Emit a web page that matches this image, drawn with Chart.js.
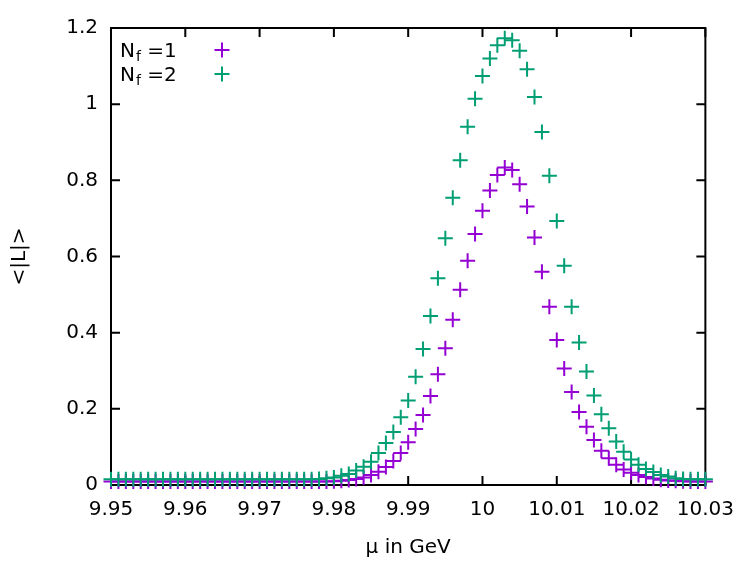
<!DOCTYPE html>
<html>
<head>
<meta charset="utf-8">
<script src="https://cdn.jsdelivr.net/npm/chart.js@4/dist/chart.umd.min.js"></script>
<style>
  body { margin: 0; background: #fff; }
</style>
</head>
<body>
<canvas id="muChart" width="747" height="561"></canvas>
<script>
// mu values (GeV)
const muValues = [
  9.950, 9.951, 9.952, 9.953, 9.954, 9.955, 9.956, 9.957, 9.958, 9.959,
  9.960, 9.961, 9.962, 9.963, 9.964, 9.965, 9.966, 9.967, 9.968, 9.969,
  9.970, 9.971, 9.972, 9.973, 9.974, 9.975, 9.976, 9.977, 9.978, 9.979,
  9.980, 9.981, 9.982, 9.983, 9.984, 9.985, 9.986, 9.987, 9.988, 9.989,
  9.990, 9.991, 9.992, 9.993, 9.994, 9.995, 9.996, 9.997, 9.998, 9.999,
  10.000, 10.001, 10.002, 10.003, 10.004, 10.005, 10.006, 10.007, 10.008, 10.009,
  10.010, 10.011, 10.012, 10.013, 10.014, 10.015, 10.016, 10.017, 10.018, 10.019,
  10.020, 10.021, 10.022, 10.023, 10.024, 10.025, 10.026, 10.027, 10.028, 10.029,
  10.030
];

// <|L|> for Nf = 1
const nf1Values = [
  0.009, 0.009, 0.009, 0.009, 0.009, 0.009, 0.009, 0.009, 0.009, 0.009,
  0.009, 0.009, 0.009, 0.009, 0.009, 0.009, 0.009, 0.009, 0.009, 0.009,
  0.009, 0.009, 0.009, 0.009, 0.009, 0.009, 0.009, 0.009, 0.009, 0.009,
  0.010, 0.011, 0.013, 0.016, 0.020, 0.026, 0.035, 0.047, 0.063, 0.084,
  0.112, 0.147, 0.184, 0.234, 0.291, 0.359, 0.434, 0.513, 0.589, 0.659,
  0.720, 0.773, 0.814, 0.834, 0.827, 0.790, 0.731, 0.650, 0.560, 0.468,
  0.381, 0.306, 0.244, 0.192, 0.153, 0.118, 0.090, 0.070, 0.053, 0.041,
  0.032, 0.026, 0.021, 0.017, 0.014, 0.012, 0.011, 0.010, 0.009, 0.009,
  0.009
];

// <|L|> for Nf = 2
const nf2Values = [
  0.015, 0.015, 0.015, 0.015, 0.015, 0.015, 0.015, 0.015, 0.015, 0.015,
  0.015, 0.015, 0.015, 0.015, 0.015, 0.015, 0.015, 0.015, 0.015, 0.015,
  0.015, 0.015, 0.015, 0.015, 0.015, 0.015, 0.015, 0.015, 0.016, 0.018,
  0.020, 0.024, 0.029, 0.038, 0.048, 0.061, 0.084, 0.110, 0.139, 0.178,
  0.222, 0.284, 0.357, 0.444, 0.543, 0.648, 0.754, 0.853, 0.941, 1.014,
  1.074, 1.120, 1.155, 1.173, 1.168, 1.140, 1.092, 1.019, 0.927, 0.812,
  0.693, 0.576, 0.468, 0.374, 0.298, 0.235, 0.186, 0.149, 0.114, 0.087,
  0.067, 0.053, 0.042, 0.034, 0.026, 0.022, 0.018, 0.016, 0.015, 0.015,
  0.015
];

const seriesNames = ['1', '2'];
const seriesColors = ['#9400d3', '#009e73'];

const xTicks = [9.95, 9.96, 9.97, 9.98, 9.99, 10.00, 10.01, 10.02, 10.03];
const xTickLabels = ['9.95', '9.96', '9.97', '9.98', '9.99', '10', '10.01', '10.02', '10.03'];
const yTicks = [0, 0.2, 0.4, 0.6, 0.8, 1.0, 1.2];
const yTickLabels = ['0', '0.2', '0.4', '0.6', '0.8', '1', '1.2'];

const FONT = 'DejaVu Sans';
const fontSize = 20;
const markRadius = 7.5;

function toPoints(values) {
    return values.map((v, i) => ({ x: muValues[i], y: v }));
}

function drawPlus(ctx, x, y, color) {
    ctx.save();
    ctx.strokeStyle = color;
    ctx.lineWidth = 2;
    ctx.beginPath();
    ctx.moveTo(x - markRadius, y);
    ctx.lineTo(x + markRadius, y);
    ctx.moveTo(x, y - markRadius);
    ctx.lineTo(x, y + markRadius);
    ctx.stroke();
    ctx.restore();
}

// gnuplot style box with inward ticks on all sides
const framePlugin = {
    id: 'frame',
    beforeDatasetsDraw(chart) {
        const ctx = chart.ctx;
        const a = chart.chartArea;
        const xs = chart.scales.x;
        const ys = chart.scales.y;
        const tl = 9;
        ctx.save();
        ctx.strokeStyle = '#000';
        ctx.lineWidth = 2;
        ctx.beginPath();
        xTicks.forEach(t => {
            const px = xs.getPixelForValue(t);
            ctx.moveTo(px, a.bottom);
            ctx.lineTo(px, a.bottom - tl);
            ctx.moveTo(px, a.top);
            ctx.lineTo(px, a.top + tl);
        });
        yTicks.forEach(t => {
            const py = ys.getPixelForValue(t);
            ctx.moveTo(a.left, py);
            ctx.lineTo(a.left + tl, py);
            ctx.moveTo(a.right, py);
            ctx.lineTo(a.right - tl, py);
        });
        ctx.stroke();
        ctx.strokeRect(a.left, a.top, a.right - a.left, a.bottom - a.top);
        ctx.restore();
    },
    afterDatasetsDraw(chart) {
        const ctx = chart.ctx;
        ctx.save();
        ctx.fillStyle = '#000';
        ctx.textBaseline = 'alphabetic';
        seriesNames.forEach((name, i) => {
            const base = 57 + i * 24;
            let x = 120;
            ctx.font = fontSize + 'px "' + FONT + '"';
            ctx.fillText('N', x, base);
            x += ctx.measureText('N').width;
            ctx.font = '14px "' + FONT + '"';
            ctx.fillText('f', x + 1, base + 4);
            x += ctx.measureText('f').width + 1;
            ctx.font = fontSize + 'px "' + FONT + '"';
            ctx.fillText(' =' + name, x, base);
            drawPlus(ctx, 222, base - 7, seriesColors[i]);
        });
        ctx.restore();
    }
};

const ctx = document.getElementById('muChart').getContext('2d');
const muChart = new Chart(ctx, {
    type: 'scatter',
    data: {
        datasets: [{
            label: 'Nf =1',
            data: toPoints(nf1Values),
            pointStyle: 'cross',
            pointRadius: markRadius,
            pointBorderWidth: 2,
            borderColor: seriesColors[0],
            backgroundColor: seriesColors[0],
            clip: false,
            order: 1
        }, {
            label: 'Nf =2',
            data: toPoints(nf2Values),
            pointStyle: 'cross',
            pointRadius: markRadius,
            pointBorderWidth: 2,
            borderColor: seriesColors[1],
            backgroundColor: seriesColors[1],
            clip: false,
            order: 0
        }]
    },
    options: {
        responsive: false,
        animation: false,
        layout: { padding: { top: 28, right: 37, left: 0, bottom: 0 } },
        plugins: {
            legend: { display: false },
            tooltip: { enabled: false }
        },
        scales: {
            x: {
                type: 'linear',
                min: 9.95,
                max: 10.03,
                afterBuildTicks: scale => { scale.ticks = xTicks.map(v => ({ value: v })); },
                afterFit: scale => { scale.height = 76; },
                grid: { display: false, drawTicks: false },
                border: { display: false },
                ticks: {
                    autoSkip: false,
                    maxRotation: 0,
                    padding: 13,
                    color: '#000',
                    font: { family: FONT, size: fontSize },
                    callback: (v, i) => xTickLabels[i]
                },
                title: {
                    display: true,
                    text: 'μ in GeV',
                    color: '#000',
                    font: { family: FONT, size: fontSize },
                    padding: { top: 0, bottom: 1 }
                }
            },
            y: {
                min: 0,
                max: 1.2,
                afterBuildTicks: scale => { scale.ticks = yTicks.map(v => ({ value: v })); },
                afterFit: scale => { scale.width = 111; },
                grid: { display: false, drawTicks: false },
                border: { display: false },
                ticks: {
                    padding: 13,
                    color: '#000',
                    font: { family: FONT, size: fontSize },
                    callback: (v, i) => yTickLabels[i]
                },
                title: {
                    display: true,
                    text: '<|L|>',
                    color: '#000',
                    font: { family: FONT, size: fontSize },
                    padding: { top: 8, bottom: 0 }
                }
            }
        }
    },
    plugins: [framePlugin]
});
</script>
</body>
</html>
